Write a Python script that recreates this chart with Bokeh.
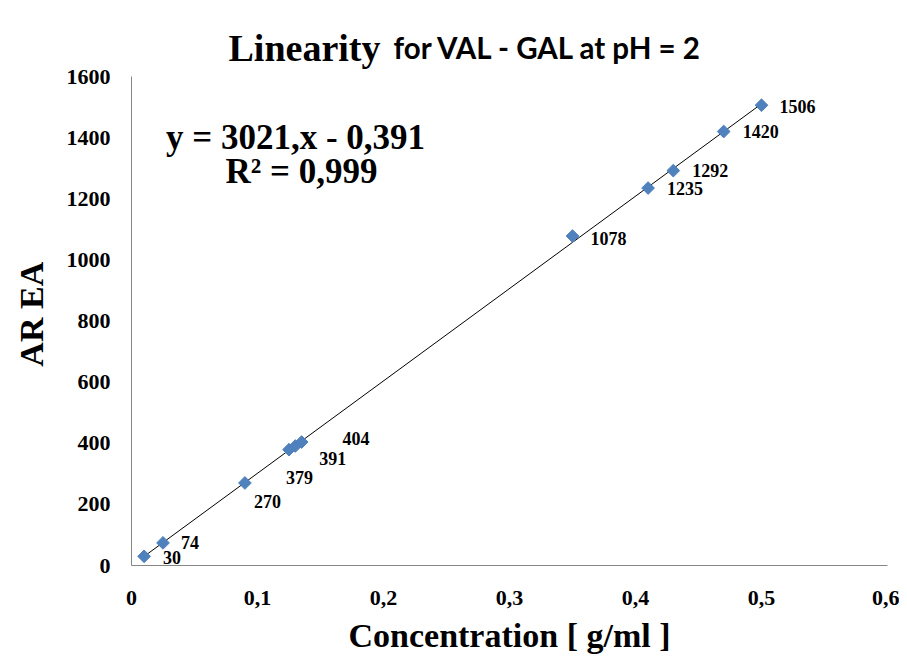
import numpy as np
from bokeh.plotting import figure
from bokeh.models import FixedTicker, Label, ColumnDataSource
from bokeh.embed import file_html
from bokeh.resources import INLINE
from bokeh.core.properties import value

# ---- data ----
conc = [0.01, 0.025, 0.09, 0.125, 0.13, 0.135, 0.35, 0.41, 0.43, 0.47, 0.5]
area = [30, 74, 270, 379, 391, 404, 1078, 1235, 1292, 1420, 1506]
point_labels = ["30", "74", "270", "379", "391", "404", "1078", "1235", "1292", "1420", "1506"]
x_ticks = [0, 0.1, 0.2, 0.3, 0.4, 0.5, 0.6]
x_tick_labels = ["0", "0,1", "0,2", "0,3", "0,4", "0,5", "0,6"]
y_ticks = [0, 200, 400, 600, 800, 1000, 1200, 1400, 1600]
y_tick_labels = ["0", "200", "400", "600", "800", "1000", "1200", "1400", "1600"]
title_part1 = "Linearity"
title_part2 = "for VAL - GAL at pH = 2"
equation_line1 = "y = 3021,x - 0,391"
equation_line2 = "R² = 0,999"
x_title = "Concentration [ g/ml ]"
y_title = "AR EA"

# label pixel offsets (layout, not data)
label_dx = [19, 18, 9, -3, 24, 41, 18, 19, 19, 19, 18]
label_dy = [1, 0, 19, 28, 12, -4, 2, 0, 0, 0, 1]

SERIF = "Liberation Serif"
BLUE = "#4F81BD"
GRAY = "#868686"

W, H = 899, 657
X0, X1, Y0, Y1 = 0.0, 0.6, 0.0, 1600.0
FL, FR, FT, FB = 131, 887, 76, 565  # axes box in canvas pixels
TOP = 20                              # frame extended upward to hold the title


def X(px):
    return X0 + (px - FL) / (FR - FL) * (X1 - X0)


def Y(py):
    return Y0 + (FB - py) / (FB - FT) * (Y1 - Y0)


p = figure(width=W, height=H, output_backend="svg", toolbar_location=None,
           x_range=(X0, X1), y_range=(Y0, Y(TOP)),
           min_border_left=FL, min_border_right=W - FR,
           min_border_top=TOP, min_border_bottom=H - FB)
p.outline_line_color = None
p.grid.visible = False
p.background_fill_color = "white"
p.border_fill_color = "white"

# axes
for ax in (p.xaxis[0], p.yaxis[0]):
    ax.axis_line_color = GRAY
    ax.axis_line_width = 1
    ax.major_tick_line_color = None
    ax.minor_tick_line_color = None
    ax.major_label_text_font = SERIF
    ax.major_label_text_font_style = "bold"
    ax.major_label_text_font_size = "22px"
    ax.major_label_text_color = "black"
    ax.axis_label_text_font = SERIF
    ax.axis_label_text_font_style = "bold"
    ax.axis_label_text_color = "black"

p.xaxis.ticker = FixedTicker(ticks=x_ticks)
p.xaxis.major_label_overrides = {t: l for t, l in zip(x_ticks, x_tick_labels)}
p.yaxis.ticker = FixedTicker(ticks=y_ticks)
p.yaxis.major_label_overrides = {t: l for t, l in zip(y_ticks, y_tick_labels)}
p.yaxis.bounds = (Y0, Y1)
p.xaxis.major_label_standoff = 19
p.yaxis.major_label_standoff = 15
p.xaxis.axis_label = x_title
p.xaxis.axis_label_text_font_size = "34px"
p.xaxis.axis_label_standoff = 9
# trailing no-break spaces move the centred vertical title down to the axes' middle
p.yaxis.axis_label = y_title + "\u00a0" * 5
p.yaxis.axis_label_text_font_size = "34px"
p.yaxis.axis_label_standoff = 14

# trendline from least squares fit of the data
slope, intercept = np.polyfit(conc, area, 1)
tx = [min(conc), max(conc)]
ty = [slope * v + intercept for v in tx]
p.line(tx, ty, line_color="black", line_width=1)

src = ColumnDataSource(dict(x=conc, y=area, lab=point_labels, dx=label_dx, dy=label_dy))
p.scatter("x", "y", source=src, marker="square", angle=np.pi / 4, size=9,
          fill_color=BLUE, line_color=BLUE)
p.text("x", "y", text="lab", source=src, x_offset="dx", y_offset="dy",
       text_font=value(SERIF), text_font_style="bold", text_font_size="18px",
       text_align="left", text_baseline="middle", text_color="black")


def lab(text, px, py, font, size, align="left"):
    p.add_layout(Label(x=X(px), y=Y(py), text=text, text_font=font,
                       text_font_style="bold", text_font_size=size,
                       text_align=align, text_baseline="alphabetic",
                       text_color="black"))


# title (two fonts as in the original rendering)
lab(title_part1, 228, 47, SERIF, "38px")
lab(title_part2, 393, 47, "Lato", "29.5px")

# regression annotation
lab(equation_line1, 295, 137, SERIF, "35px", align="center")
lab(equation_line2, 301, 171, SERIF, "35px", align="center")

open("out.html", "w").write(file_html(p, INLINE))
